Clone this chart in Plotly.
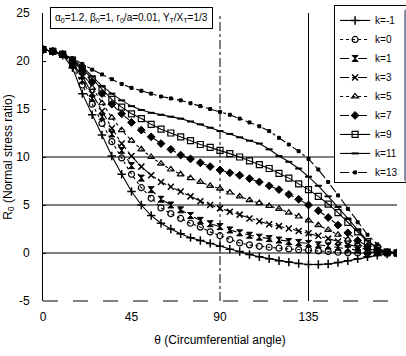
import plotly.graph_objects as go

theta = [0, 5, 10, 15, 20, 25, 30, 35, 40, 45, 50, 55, 60, 65, 70, 75, 80, 85, 90,
         95, 100, 105, 110, 115, 120, 125, 130, 135, 140, 145, 150, 155, 160, 165, 170, 175, 180]

r_km1 = [21.2, 21.0, 20.6, 19.3, 16.6, 14.4, 12.3, 10.1, 8.2, 6.4, 5.0, 3.9, 3.1, 2.5, 2.0, 1.6, 1.3, 1.0, 0.7,
         0.4, 0.15, -0.15, -0.4, -0.6, -0.8, -0.95, -1.1, -1.2, -1.2, -1.15, -1.0, -0.8, -0.6, -0.4, -0.25, -0.1, 0.0]
r_k0 = [21.2, 21.0, 20.7, 19.5, 17.5, 15.5, 13.5, 11.6, 9.9, 8.2, 6.8, 5.7, 4.7, 4.1, 3.6, 3.1, 2.7, 2.2, 1.8,
        1.4, 1.05, 0.85, 0.7, 0.6, 0.5, 0.42, 0.35, 0.3, 0.22, 0.15, 0.08, 0.03, 0.0, -0.02, 0.0, 0.0, 0.0]
r_k1 = [21.2, 21.0, 20.7, 19.7, 18.0, 16.1, 14.2, 12.4, 10.7, 9.1, 7.8, 6.6, 5.6, 5.0, 4.5, 3.9, 3.4, 3.05, 2.75,
        2.4, 2.1, 1.85, 1.65, 1.5, 1.35, 1.2, 1.1, 1.0, 0.85, 0.75, 0.6, 0.45, 0.3, 0.15, 0.05, 0.0, 0.0]
r_k3 = [21.2, 21.0, 20.7, 19.8, 18.4, 16.6, 14.8, 13.0, 11.4, 10.1, 9.0, 8.1, 7.4, 6.9, 6.4, 5.9, 5.4, 5.0, 4.65,
        4.3, 4.0, 3.6, 3.3, 3.0, 2.8, 2.55, 2.3, 2.05, 1.8, 1.5, 1.2, 0.9, 0.6, 0.35, 0.15, 0.05, 0.0]
r_k5 = [21.2, 21.0, 20.7, 19.9, 18.8, 17.2, 15.6, 14.1, 12.8, 11.7, 10.8, 10.0, 9.3, 8.7, 8.2, 7.8, 7.4, 7.0, 6.7,
        6.3, 5.9, 5.5, 5.2, 4.9, 4.6, 4.2, 3.8, 3.4, 2.9, 2.4, 1.9, 1.4, 0.9, 0.5, 0.2, 0.05, 0.0]
r_k7 = [21.2, 21.0, 20.7, 20.0, 19.0, 17.8, 16.6, 15.5, 14.5, 13.6, 12.8, 12.1, 11.4, 10.8, 10.2, 9.8, 9.4, 9.0, 8.65,
        8.35, 8.1, 7.75, 7.4, 7.0, 6.6, 6.1, 5.6, 5.0, 4.4, 3.7, 2.9, 2.1, 1.3, 0.7, 0.3, 0.05, 0.0]
r_k9 = [21.2, 21.0, 20.7, 20.1, 19.2, 18.1, 17.0, 16.0, 15.2, 14.5, 14.0, 13.4, 12.9, 12.5, 12.1, 11.7, 11.3, 11.0, 10.7,
        10.35, 10.0, 9.6, 9.2, 8.8, 8.3, 7.8, 7.2, 6.6, 5.9, 5.1, 4.2, 3.2, 2.2, 1.2, 0.5, 0.1, 0.0]
r_k11 = [21.2, 21.0, 20.7, 20.2, 19.4, 18.4, 17.4, 16.6, 15.9, 15.3, 14.9, 14.6, 14.4, 14.2, 14.0, 13.7, 13.4, 13.05, 12.7,
         12.4, 12.05, 11.7, 11.4, 10.8, 10.1, 9.5, 8.8, 7.95, 7.0, 5.9, 4.8, 3.6, 2.4, 1.3, 0.5, 0.1, 0.0]
r_k13 = [21.2, 21.0, 20.7, 20.3, 19.7, 19.1, 18.6, 18.1, 17.6, 17.2, 16.9, 16.6, 16.3, 16.1, 15.9, 15.6, 15.3, 15.0, 14.7,
         14.4, 14.0, 13.6, 13.2, 12.7, 12.0, 11.3, 10.6, 9.8, 8.7, 7.4, 6.0, 4.6, 3.2, 1.9, 0.9, 0.25, 0.0]

series_names = ["k=-1", "k=0", "k=1", "k=3", "k=5", "k=7", "k=9", "k=11", "k=13"]
series_values = [r_km1, r_k0, r_k1, r_k3, r_k5, r_k7, r_k9, r_k11, r_k13]

x_ticks = [0, 45, 90, 135, 180]
y_ticks = [-5, 0, 5, 10, 15, 20, 25]

styles = [
    dict(dash="solid", symbol="cross-thin-open", size=6, lw=1.5),
    dict(dash="dot", symbol="circle-open", size=6, lw=1.2),
    dict(dash="dash", symbol="hourglass", size=6, lw=1.0),
    dict(dash="dashdot", symbol="x-thin-open", size=6, lw=1.5),
    dict(dash="dot", symbol="triangle-up-open", size=6, lw=1.2),
    dict(dash="dash", symbol="diamond", size=6, lw=1.0),
    dict(dash="solid", symbol="square-open", size=6, lw=1.2),
    dict(dash="solid", symbol="line-ew-open", size=5, lw=2.0),
    dict(dash="dashdot", symbol="square", size=3, lw=1.0),
]

FONT = "Arial, Liberation Sans, sans-serif"

fig = go.Figure()
for name, vals, st in zip(series_names, series_values, styles):
    fig.add_trace(go.Scatter(
        x=theta, y=vals, name=name, mode="lines+markers",
        line=dict(color="black", width=1.1, dash=st["dash"]),
        marker=dict(symbol=st["symbol"], size=st["size"], color="black",
                    line=dict(color="black", width=st["lw"])),
    ))

# partial grid lines as in the scanned original
for yv in [0, 5, 10]:
    fig.add_shape(type="line", xref="paper", yref="y", x0=0, x1=1, y0=yv, y1=yv,
                  line=dict(color="black", width=1), layer="below")
fig.add_shape(type="line", xref="x", yref="paper", x0=90, x1=90, y0=0, y1=1,
              line=dict(color="black", width=1, dash="dashdot"), layer="below")
fig.add_shape(type="line", xref="x", yref="paper", x0=135, x1=135, y0=0, y1=1,
              line=dict(color="black", width=1), layer="below")
fig.add_shape(type="line", xref="paper", yref="paper", x0=0, x1=1, y0=0, y1=0,
              line=dict(color="black", width=1, dash="longdash"))

fig.add_annotation(
    xref="paper", yref="paper", x=0.02, y=1.022, xanchor="left", yanchor="top",
    text="α<sub>0</sub>=1.2, β<sub>0</sub>=1, r<sub>0</sub>/a=0.01, Y<sub>T</sub>/X<sub>T</sub>=1/3",
    showarrow=False, font=dict(family=FONT, size=10, color="black"),
    bordercolor="black", borderwidth=1, borderpad=4, bgcolor="white",
)

fig.update_layout(
    width=406, height=356,
    margin=dict(l=43, r=9, t=13, b=55, autoexpand=False),
    paper_bgcolor="white", plot_bgcolor="white",
    font=dict(family=FONT, size=12, color="black"),
    showlegend=True,
    legend=dict(x=1.02, y=1.028, xanchor="right", yanchor="top",
                bordercolor="black", borderwidth=1, bgcolor="white",
                font=dict(family=FONT, size=10), itemwidth=30,
                tracegroupgap=0),
    xaxis=dict(range=[0, 180], tickvals=x_ticks, ticktext=[str(v) for v in x_ticks],
               showgrid=False, zeroline=False, showline=False, ticks="",
               ticklabelstandoff=7,
               title=dict(text="θ (Circumferential angle)", font=dict(size=12), standoff=12)),
    yaxis=dict(range=[-5, 25], tickvals=y_ticks, ticktext=[str(v) for v in y_ticks],
               showgrid=False, zeroline=False, showline=True, linecolor="black", linewidth=1,
               ticks="inside", ticklen=3, tickcolor="black",
               ticklabelstandoff=10,
               title=dict(text="R<sub>0</sub> (Normal stress ratio)", font=dict(size=12), standoff=1)),
)

fig.write_html("out.html", config={"displayModeBar": False},
               post_script="document.body.style.margin='0';document.body.style.overflow='hidden';")
